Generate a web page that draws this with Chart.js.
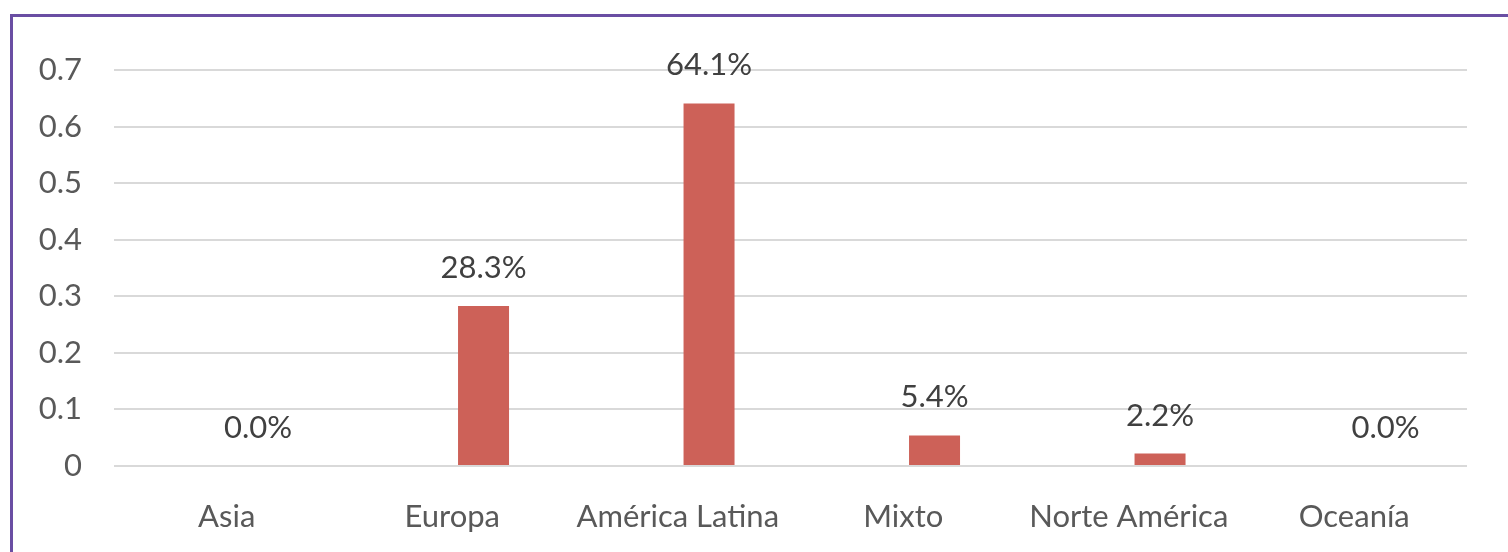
<!DOCTYPE html>
<html>
<head>
<meta charset="utf-8">
<script src="https://cdn.jsdelivr.net/npm/chart.js@4.4.1/dist/chart.umd.min.js"></script>
<style>
  html, body { margin: 0; padding: 0; background: #fff; }
  #wrap { position: relative; width: 1508px; height: 552px; overflow: hidden; }
  #frame {
    position: absolute; left: 10px; top: 14px; width: 1600px; height: 700px;
    border-left: 3px solid #6a4ea3; border-top: 3px solid #6a4ea3;
    box-sizing: border-box;
  }
  canvas { position: absolute; left: 0; top: 0; }
</style>
</head>
<body>
<div id="wrap">
  <div id="frame"></div>
  <canvas id="chart" width="1508" height="552"></canvas>
</div>
<script>
/* Distribución por región – bar chart with % labels */

const regions = ['Asia', 'Europa', 'América Latina', 'Mixto', 'Norte América', 'Oceanía'];
const hiddenSeries = [null, null, null, null, null, null];
const shares = [0.0, 0.283, 0.641, 0.054, 0.022, 0.0];
const yTicks = [0, 0.1, 0.2, 0.3, 0.4, 0.5, 0.6, 0.7];

const FONT = 'Lato, "Open Sans", sans-serif';

// draws the "xx.x%" value above every bar of the visible series
const barLabels = {
  id: 'barLabels',
  afterDatasetsDraw(chart) {
    const ctx = chart.ctx;
    const meta = chart.getDatasetMeta(1);
    ctx.save();
    ctx.font = '31px ' + FONT;
    ctx.fillStyle = '#404040';
    ctx.textAlign = 'center';
    ctx.textBaseline = 'alphabetic';
    meta.data.forEach((bar, i) => {
      const txt = (shares[i] * 100).toFixed(1) + '%';
      ctx.fillText(txt, bar.x, bar.y - 28);
    });
    ctx.restore();
  }
};

const chart = new Chart(document.getElementById('chart'), {
  type: 'bar',
  data: {
    labels: regions,
    datasets: [
      { label: '', data: hiddenSeries, backgroundColor: 'rgba(0,0,0,0)' },
      {
        label: 'Proporción',
        data: shares,
        backgroundColor: '#cd6158',
        borderWidth: 0
      }
    ]
  },
  options: {
    responsive: false,
    animation: false,
    devicePixelRatio: 1,
    layout: { padding: { left: 0, top: 70, right: 41, bottom: 0 } },
    datasets: { bar: { categoryPercentage: 0.555, barPercentage: 0.815 } },
    plugins: { legend: { display: false }, tooltip: { enabled: false } },
    scales: {
      x: {
        grid: { display: false },
        border: { display: false },
        ticks: { color: '#595959', font: { family: FONT, size: 31 }, padding: 24, maxRotation: 0 },
        afterFit(scale) { scale.height = 86; scale.paddingLeft = 0; scale.paddingRight = 0; }
      },
      y: {
        min: 0,
        max: 0.7,
        afterBuildTicks(scale) { scale.ticks = yTicks.map(v => ({ value: v })); },
        grid: { color: '#d9d9d9', lineWidth: 2, drawTicks: false },
        border: { display: false },
        ticks: {
          color: '#595959',
          font: { family: FONT, size: 31 },
          padding: 32,
          callback: v => String(Math.round(v * 10) / 10)
        },
        afterFit(scale) { scale.width = 114; scale.paddingTop = 0; scale.paddingBottom = 0; }
      }
    }
  },
  plugins: [barLabels]
});
</script>
</body>
</html>
